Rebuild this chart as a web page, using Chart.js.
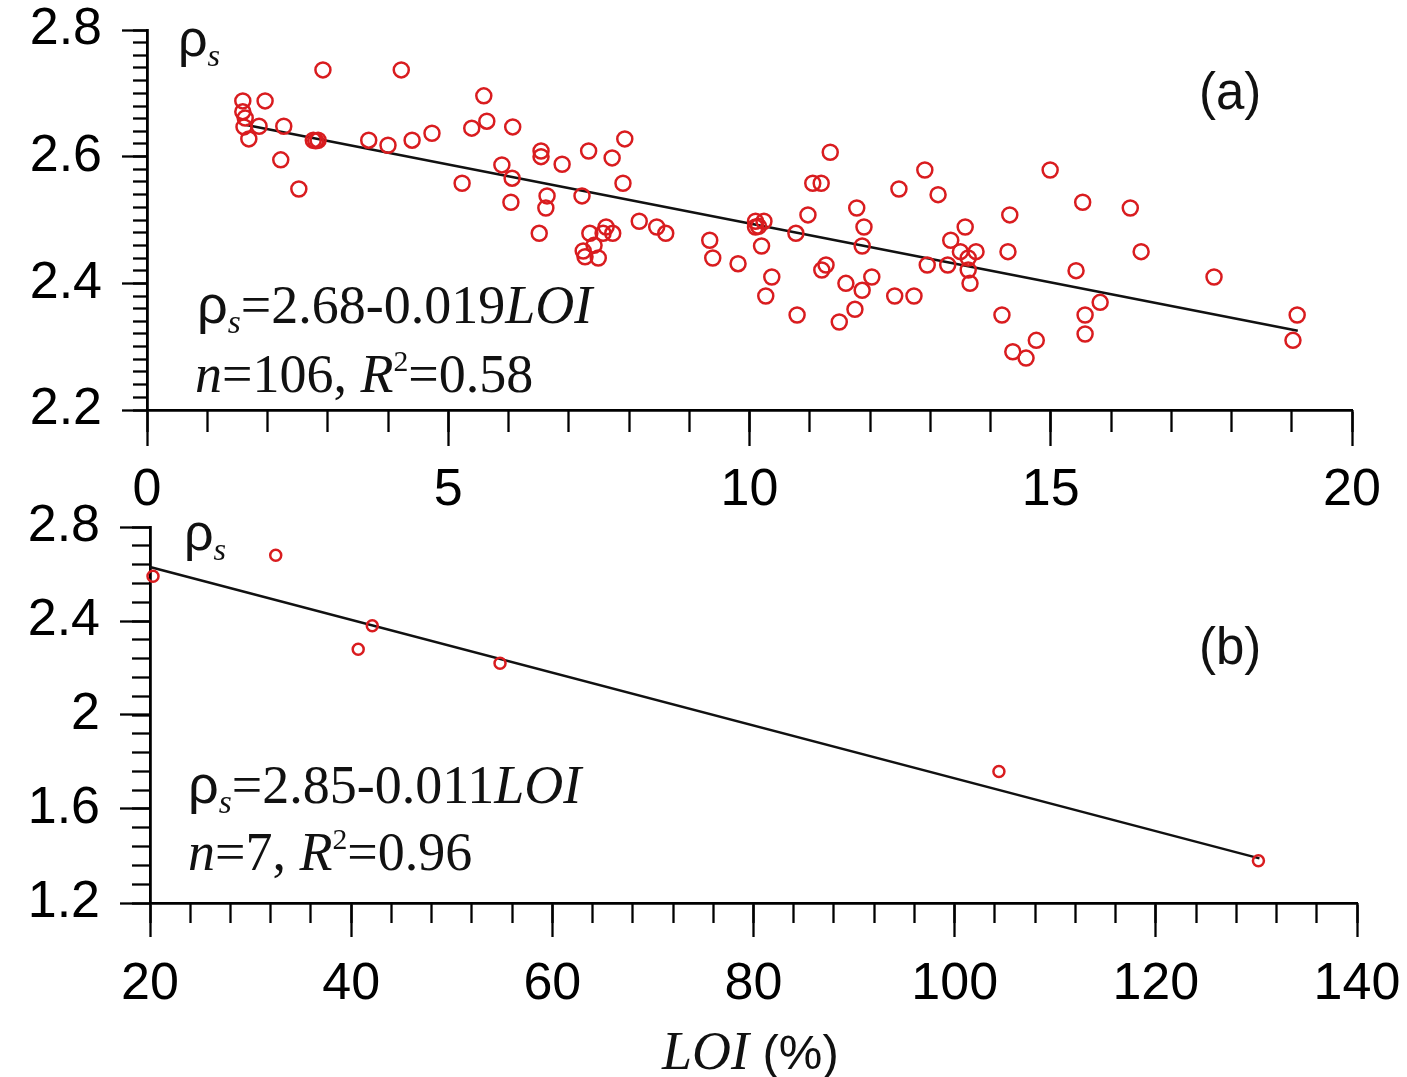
<!DOCTYPE html>
<html>
<head>
<meta charset="utf-8">
<script src="https://cdn.jsdelivr.net/npm/chart.js@4.4.0/dist/chart.umd.min.js"></script>
<style>
body { margin: 0; background: #fff; width: 1407px; height: 1077px; overflow: hidden; position: relative; }
canvas { position: absolute; left: 0; }
.t { position: absolute; line-height: 1; white-space: nowrap; color: #111; }
.serif { font-family: "Liberation Serif", "Times New Roman", serif; font-size: 54px; }
.sans { font-family: "Liberation Sans", Arial, sans-serif; }
.rho { font-family: "Liberation Sans", Arial, sans-serif; }
.sub { font-family: "Liberation Serif", serif; font-style: italic; font-size: 0.62em; position: relative; top: 0.3em; }
.sup { font-size: 0.55em; position: relative; top: -0.7em; }
</style>
</head>
<body>
<canvas id="chartA" width="1440" height="536" style="top:-16px"></canvas>
<canvas id="chartB" width="1440" height="607" style="top:470px"></canvas>

<div class="t" style="left:178px;top:12px;font-size:52px"><span class="rho">ρ</span><span class="sub">s</span></div>
<div class="t sans" style="left:1199px;top:66px;font-size:51px">(a)</div>
<div class="t serif" style="left:197px;top:277px"><span class="rho">ρ</span><span class="sub">s</span>=2.68-0.019<i>LOI</i></div>
<div class="t serif" style="left:195px;top:347px"><i>n</i>=106, <i>R</i><span class="sup">2</span>=0.58</div>

<div class="t" style="left:184px;top:506px;font-size:52px"><span class="rho">ρ</span><span class="sub">s</span></div>
<div class="t sans" style="left:1199px;top:621px;font-size:51px">(b)</div>
<div class="t serif" style="left:188px;top:757px"><span class="rho">ρ</span><span class="sub">s</span>=2.85-0.011<i>LOI</i></div>
<div class="t serif" style="left:188px;top:825px"><i>n</i>=7, <i>R</i><span class="sup">2</span>=0.96</div>

<div class="t" style="left:662px;top:1024px;font-size:54px"><i class="serif">LOI</i> <span class="sans" style="font-size:49px">(%)</span></div>

<script>
// panel (a): LOI < 20 %
const loiA = [
	1.59, 1.59, 1.61, 1.63, 1.69, 1.86, 1.96, 2.27, 2.22, 2.52,
	2.76, 2.80, 2.84, 2.92, 3.68, 4.00, 4.22, 4.40, 4.73, 5.23,
	5.39, 5.59, 5.64, 6.07, 5.89, 6.06, 6.04, 6.54, 6.54, 6.89,
	6.64, 6.62, 6.51, 7.22, 7.33, 7.72, 7.93, 7.90, 7.35, 7.57,
	7.62, 7.73, 7.42, 7.24, 7.27, 7.49, 8.17, 8.46, 8.61, 9.34,
	9.39, 9.81, 10.10, 10.10, 10.15, 10.24, 10.20, 10.27, 10.37, 10.77,
	10.79, 10.97, 11.05, 11.19, 11.34, 11.20, 11.27, 11.60, 11.49, 11.78,
	11.90, 11.87, 11.75, 11.87, 12.03, 12.41, 12.73, 12.48, 12.91, 13.13,
	12.95, 13.29, 13.34, 13.58, 13.50, 13.63, 13.63, 13.66, 13.76, 14.19,
	14.29, 14.32, 14.37, 14.59, 14.76, 14.99, 15.42, 15.53, 15.57, 15.57,
	15.82, 16.32, 16.50, 17.71, 19.09, 19.02
];
const rhoA = [
	2.688, 2.671, 2.647, 2.661, 2.628, 2.648, 2.688, 2.648, 2.595, 2.549,
	2.626, 2.625, 2.626, 2.737, 2.626, 2.618, 2.737, 2.626, 2.637, 2.558,
	2.645, 2.696, 2.656, 2.647, 2.587, 2.566, 2.528, 2.609, 2.600, 2.588,
	2.538, 2.519, 2.479, 2.538, 2.609, 2.598, 2.628, 2.558, 2.479, 2.479,
	2.489, 2.479, 2.460, 2.451, 2.442, 2.440, 2.498, 2.489, 2.479, 2.468,
	2.440, 2.431, 2.498, 2.489, 2.490, 2.498, 2.459, 2.380, 2.410, 2.479,
	2.350, 2.508, 2.558, 2.558, 2.607, 2.421, 2.429, 2.400, 2.339, 2.519,
	2.489, 2.459, 2.359, 2.389, 2.410, 2.380, 2.380, 2.549, 2.579, 2.540,
	2.429, 2.429, 2.468, 2.489, 2.450, 2.421, 2.440, 2.400, 2.450, 2.350,
	2.450, 2.508, 2.292, 2.282, 2.310, 2.579, 2.420, 2.528, 2.350, 2.320,
	2.370, 2.519, 2.450, 2.410, 2.350, 2.310
];
const fitAx = [1.65, 19.1];
const fitAy = [2.650, 2.325];
const ticksAx = [0, 5, 10, 15, 20];
const ticksAy = [2.2, 2.4, 2.6, 2.8];

// panel (b): LOI > 20 %
const loiB = [20.3, 32.5, 40.7, 42.1, 54.8, 104.4, 130.2];
const rhoB = [2.59, 2.68, 2.28, 2.38, 2.22, 1.76, 1.38];
const fitBx = [20, 130.3];
const fitBy = [2.63, 1.39];
const ticksBx = [20, 40, 60, 80, 100, 120, 140];
const ticksBy = [1.2, 1.6, 2, 2.4, 2.8];

const RED = '#d91c1f';
const tickFont = { family: '"Liberation Sans", Arial, sans-serif', size: 52, lineHeight: 1 };

const toPoints = ( xs, ys ) => xs.map( ( x, i ) => ( { x: x, y: ys[ i ] } ) );

// major axis carries labels and long ticks, minor axis sits under it with zero size
const makeAxes = ( dir, min, max, majors, minorStep, majorLen, minorLen, size, pad ) => {
	const horiz = dir === 'x';
	const major = {
		type: 'linear',
		position: horiz ? 'bottom' : 'left',
		min: min,
		max: max,
		weight: 1,
		afterBuildTicks: ( s ) => { s.ticks = majors.map( v => ( { value: v } ) ); },
		afterFit: ( s ) => { if ( horiz ) { s.height = size; } else { s.width = size; } },
		grid: { drawOnChartArea: false, tickLength: majorLen, tickWidth: 2.3, color: '#000' },
		border: { display: true, color: '#000', width: 2.8 },
		ticks: { font: tickFont, color: '#000', padding: pad, autoSkip: false, maxRotation: 0,
			callback: ( v ) => String( v ) }
	};
	const minor = {
		type: 'linear',
		position: horiz ? 'bottom' : 'left',
		min: min,
		max: max,
		weight: 0,
		afterFit: ( s ) => { if ( horiz ) { s.height = 0; } else { s.width = 0; } },
		grid: { drawOnChartArea: false, tickLength: minorLen, tickWidth: 2.3, color: '#000' },
		border: { display: false },
		ticks: { stepSize: minorStep, maxTicksLimit: 1000, display: false, autoSkip: false }
	};
	return [ major, minor ];
};

const makeChart = ( id, pts, fit, radius, ax, ay, padding ) => {
	return new Chart( document.getElementById( id ), {
		type: 'scatter',
		data: {
			datasets: [
				{ type: 'line', data: fit, borderColor: '#111', borderWidth: 2.5, pointRadius: 0,
					xAxisID: 'x', yAxisID: 'y', clip: false, order: 2 },
				{ data: pts, pointStyle: 'circle', pointRadius: radius, borderWidth: 2.5,
					borderColor: RED, backgroundColor: 'rgba(0,0,0,0)', xAxisID: 'x', yAxisID: 'y',
					clip: false, order: 1 }
			]
		},
		options: {
			responsive: false,
			animation: false,
			layout: { padding: padding },
			plugins: { legend: { display: false }, tooltip: { enabled: false } },
			scales: { x: ax[ 0 ], x2: ax[ 1 ], y: ay[ 0 ], y2: ay[ 1 ] }
		}
	} );
};

makeChart( 'chartA', toPoints( loiA, rhoA ), toPoints( fitAx, fitAy ), 7.5,
	makeAxes( 'x', 0, 20, ticksAx, 1, 36, 22, 110, 19 ),
	makeAxes( 'y', 2.2, 2.8, ticksAy, 0.02, 25, 14, 147, 20 ),
	{ top: 46, right: 88, left: 0, bottom: 0 } );

makeChart( 'chartB', toPoints( loiB, rhoB ), toPoints( fitBx, fitBy ), 5.5,
	makeAxes( 'x', 20, 140, ticksBx, 4, 34, 20, 174, 22 ),
	makeAxes( 'y', 1.2, 2.8, ticksBy, 0.08, 30, 18, 150, 20 ),
	{ top: 57, right: 83, left: 0, bottom: 0 } );
</script>
</body>
</html>
